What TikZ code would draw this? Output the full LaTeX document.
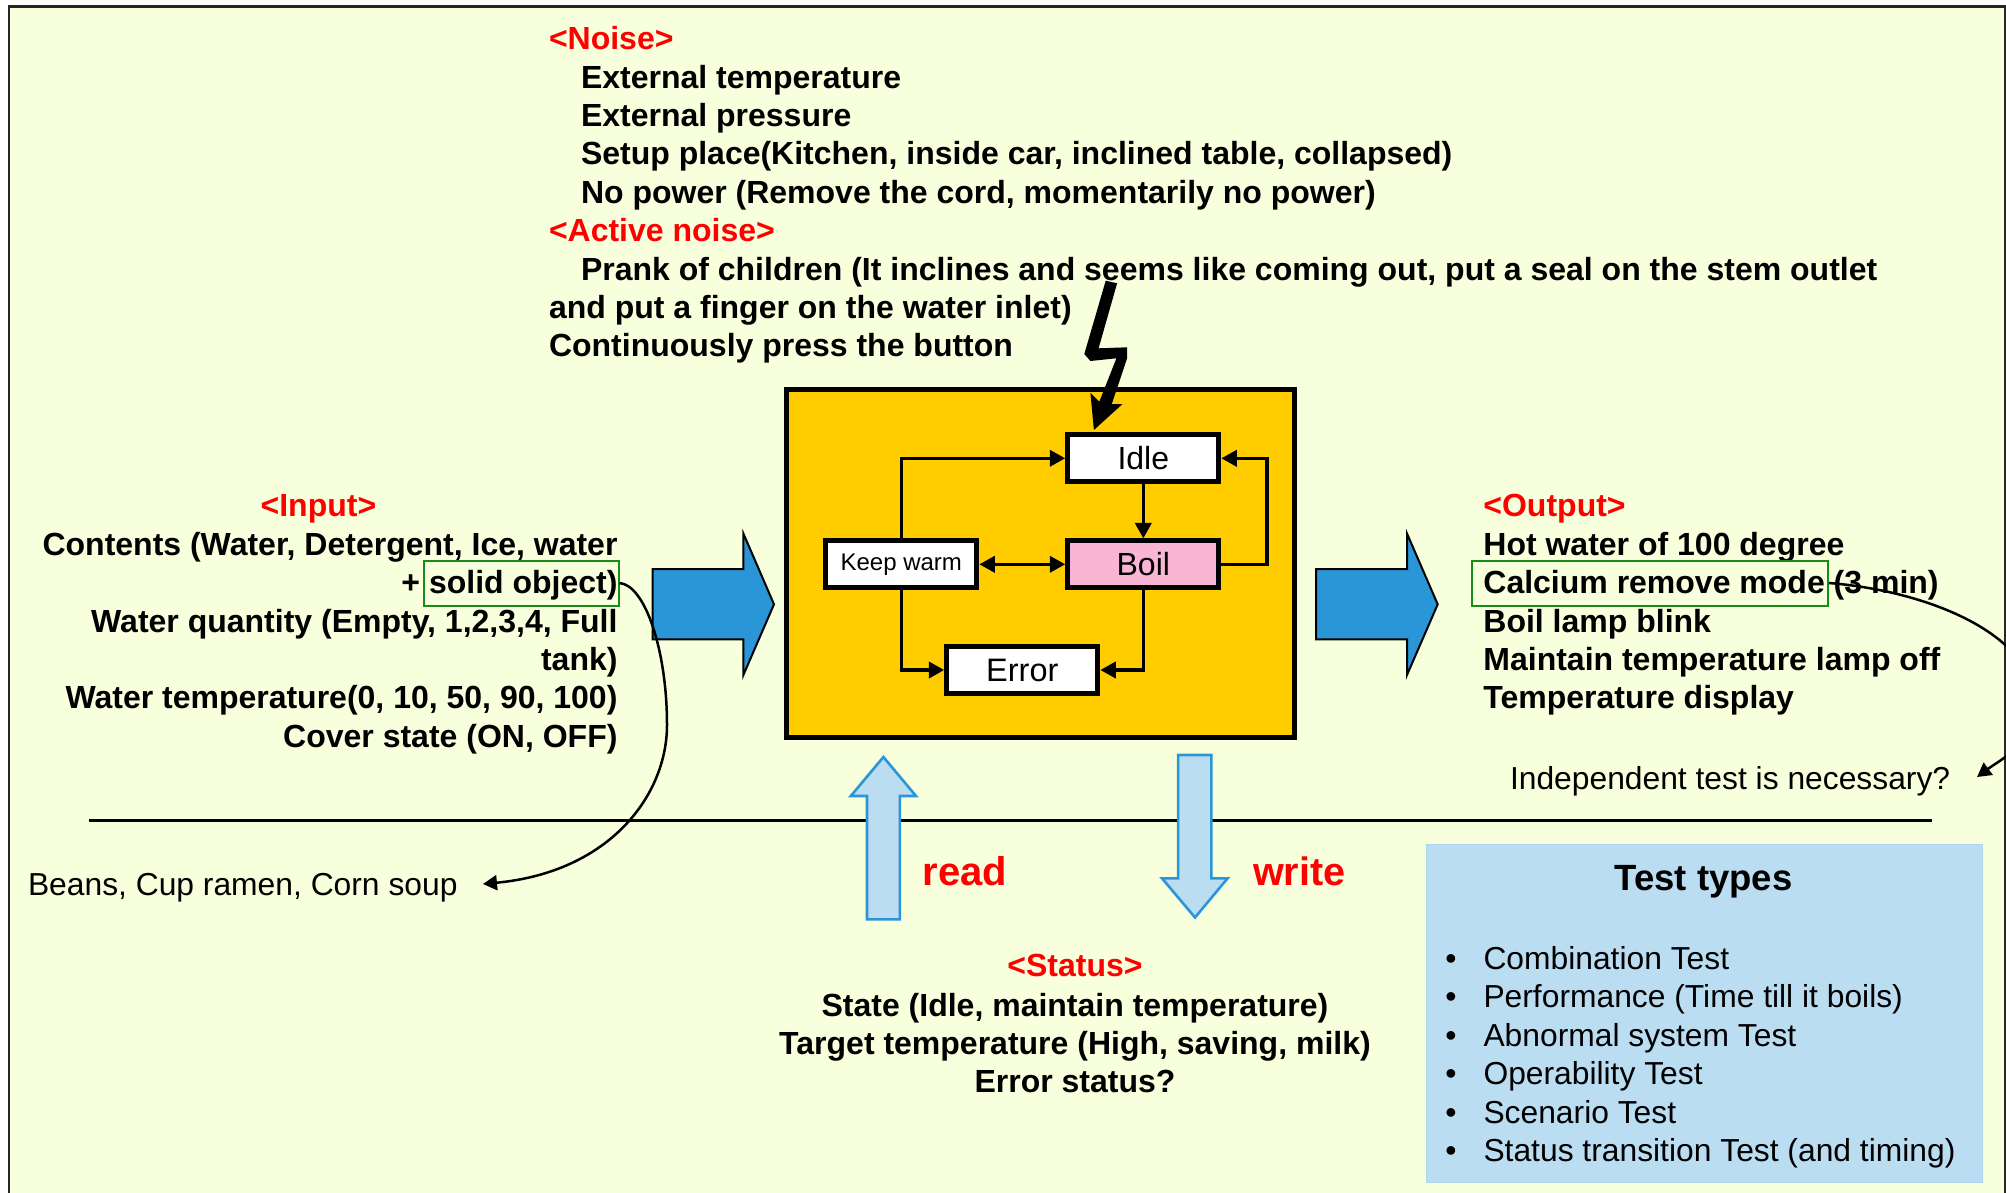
\documentclass[tikz,border=0pt]{standalone}
\usepackage{fontspec}
\setmainfont{Liberation Sans}
\usetikzlibrary{arrows.meta}
\definecolor{paper}{HTML}{F8FFDC}
\definecolor{gold}{HTML}{FFCC00}
\definecolor{pinkb}{HTML}{F8B6D4}
\definecolor{blued}{HTML}{2A96D8}
\definecolor{bluel}{HTML}{BBDDF2}
\definecolor{greenb}{HTML}{1A8C1A}
\tikzset{
  x=1pt,y=-1pt,
  txt/.style={inner sep=0pt,outer sep=0pt,font=\fontsize{32pt}{38.4pt}\selectfont,anchor=base west},
  btxt/.style={txt,font=\fontsize{32pt}{38.4pt}\selectfont\bfseries},
  rtxt/.style={btxt,text=red},
  rbtxt/.style={btxt,anchor=base east},
  statebox/.style={draw=black,line width=5pt,fill=white,minimum width=151pt,minimum height=46.7pt,inner sep=0pt,font=\fontsize{32pt}{36pt}\selectfont},
  greenbox/.style={draw=greenb,line width=2pt,inner sep=0pt},
  conn/.style={line width=3.6pt,-{Triangle[length=15.5pt,width=16pt]}},
  biconn/.style={line width=3.6pt,{Triangle[length=15.5pt,width=16pt]}-{Triangle[length=15.5pt,width=16pt]}},
  thin curve/.style={line width=2.5pt,-{Triangle[length=14pt,width=15pt]}},
  bigarrow/.style={fill=blued,draw=black,line width=2pt,line join=miter},
  flowarrow/.style={fill=bluel,draw=blued,line width=2.6pt,line join=miter},
}
\begin{document}
\begin{tikzpicture}
\useasboundingbox (0,0) rectangle (2006,1192);
\begin{scope}
\clip (0,0) rectangle (2006,1192);
\fill[white] (0,0) rectangle (2006,1192);
\draw[fill=paper,draw=black!85,line width=2.6pt] (9,6.5) rectangle (2005,1210);

% separator
\draw[line width=2.6pt] (89.3,820.7) -- (1932,820.7);

% Noise
\node[rtxt] (noise) at (549,49.3) {<Noise>};
\node[btxt] (n1) at (581,88) {External temperature};
\node[btxt] (n2) at (581,126.3) {External pressure};
\node[btxt] (n3) at (581,164.7) {Setup place(Kitchen, inside car, inclined table, collapsed)};
\node[btxt] (n4) at (581,203) {No power (Remove the cord, momentarily no power)};
\node[rtxt] (active) at (549,241.4) {<Active noise>};
\node[btxt] (a1) at (581,280.2) {Prank of children (It inclines and seems like coming out, put a seal on the stem outlet};
\node[btxt] (a2) at (549,318.4) {and put a finger on the water inlet)};
\node[btxt] (a3) at (549,356.6) {Continuously press the button};

% Input
\node[rtxt,anchor=base] (input) at (318.4,516) {<Input>};
\node[rbtxt] (i1) at (617.5,555.3) {Contents (Water, Detergent, Ice, water};
\node[rbtxt] (i2) at (617.5,593.6) {+ solid object)};
\node[rbtxt] (i3) at (617.5,632) {Water quantity (Empty, 1,2,3,4, Full};
\node[rbtxt] (i4) at (617.5,670.3) {tank)};
\node[rbtxt] (i5) at (617.5,708.6) {Water temperature(0, 10, 50, 90, 100)};
\node[rbtxt] (i6) at (617.5,747) {Cover state (ON, OFF)};
\node[greenbox,minimum width=195pt,minimum height=45pt] (solid) at (521,583) {};

% Output
\node[rtxt] (output) at (1483.4,516) {<Output>};
\node[btxt] (o1) at (1483.4,555.3) {Hot water of 100 degree};
\node[btxt] (o2) at (1483.4,593.6) {Calcium remove mode (3 min)};
\node[btxt] (o3) at (1483.4,632) {Boil lamp blink};
\node[btxt] (o4) at (1483.4,670.3) {Maintain temperature lamp off};
\node[btxt] (o5) at (1483.4,708.6) {Temperature display};
\node[greenbox,minimum width=356pt,minimum height=45pt] (calc) at (1649.8,583) {};

% notes
\node[txt,font=\fontsize{31.8pt}{38pt}\selectfont] (beans) at (28,895) {Beans, Cup ramen, Corn soup};
\node[txt,font=\fontsize{31.8pt}{38pt}\selectfont] (indep) at (1510,789) {Independent test is necessary?};

% block arrows
\draw[bigarrow] (652.6,569) -- (743.4,569) -- (743.4,533.5) -- (774,604.3) -- (743.4,675) -- (743.4,639.3) -- (652.6,639.3) -- cycle;
\draw[bigarrow] (1316.2,569) -- (1407,569) -- (1407,533.5) -- (1437.7,604.3) -- (1407,675) -- (1407,639.3) -- (1316.2,639.3) -- cycle;

% curved notes
\coordinate (solidtip) at (483,884);
\coordinate (indeptip) at (1977,777);
\draw[line width=2.5pt] (solid.east) .. controls (645,585) and (667,650) .. (667,725);
\draw[thin curve] (667,725) .. controls (667,795) and (610,872) .. (solidtip);
\draw[line width=2.5pt] (calc.east) .. controls (1920,590) and (2030,630) .. (2035,700);
\draw[thin curve] (2035,700) .. controls (2040,740) and (2000,760) .. (indeptip);

% state box
\draw[fill=gold,draw=black,line width=5pt] (786.5,389.8) rectangle (1294.5,737.5);
\node[statebox] (idle) at (1143.3,458.3) {Idle};
\node[statebox,fill=pinkb] (boil) at (1143.3,564.3) {Boil};
\node[statebox,font=\fontsize{24pt}{28pt}\selectfont] (keep) at (901.3,564.3) {\raisebox{-1pt}{Keep warm}};
\node[statebox,font=\fontsize{32.5pt}{36pt}\selectfont] (error) at (1022.3,670) {\raisebox{-1pt}{Error}};
\coordinate (rightbend) at (1267,564.3);
\draw[conn] (keep.north) |- (idle.west);
\draw[conn] (idle.south) -- (boil.north);
\draw[biconn] (keep.east) -- (boil.west);
\draw[conn,line join=miter] (boil.east) -- (rightbend) |- (idle.east);
\draw[conn] (keep.south) |- (error.west);
\draw[conn] (boil.south) |- (error.east);

% lightning
\fill[black] (1105.7,280.7) -- (1117.1,283.3) -- (1098.6,348.3) -- (1127.1,347.3) -- (1127.1,358.3) -- (1111.8,404) -- (1122.5,404) -- (1093.9,430) -- (1090.4,392.7) -- (1099.3,401.7) -- (1116.4,358.3) -- (1090.4,361) -- (1084.3,354) -- cycle;

% read / write
\draw[flowarrow] (883.4,757) -- (916,796) -- (899.9,796) -- (899.9,919.3) -- (867,919.3) -- (867,796) -- (850.8,796) -- cycle;
\draw[flowarrow] (1178.1,755) -- (1211.4,755) -- (1211.4,878.3) -- (1227.6,878.3) -- (1195,917.5) -- (1162,878.3) -- (1178.1,878.3) -- cycle;
\node[btxt,text=red,font=\fontsize{40pt}{46pt}\selectfont\bfseries] (read) at (922.5,885) {read};
\node[btxt,text=red,font=\fontsize{39.6pt}{46pt}\selectfont\bfseries] (write) at (1253,885) {write};

% status
\node[rtxt,anchor=base] (status) at (1075,976.5) {<Status>};
\node[btxt,anchor=base] (s1) at (1075,1016) {State (Idle, maintain temperature)};
\node[btxt,anchor=base] (s2) at (1075,1054) {Target temperature (High, saving, milk)};
\node[btxt,anchor=base] (s3) at (1075,1092.6) {Error status?};

% test types
\draw[fill=bluel,draw=bluel!90!blued,line width=1.5pt] (1426.3,844.3) rectangle (1982.5,1182.7);
\node[btxt,anchor=base,font=\fontsize{36.5pt}{43pt}\selectfont\bfseries] (tt) at (1703.5,890.5) {Test types};
\node[txt,font=\fontsize{31.8pt}{38pt}\selectfont] (t1) at (1483.5,969.3) {Combination Test};
\node[txt,font=\fontsize{31.8pt}{38pt}\selectfont] (t2) at (1483.5,1007.7) {Performance (Time till it boils)};
\node[txt,font=\fontsize{31.8pt}{38pt}\selectfont] (t3) at (1483.5,1046) {Abnormal system Test};
\node[txt,font=\fontsize{31.8pt}{38pt}\selectfont] (t4) at (1483.5,1084.5) {Operability Test};
\node[txt,font=\fontsize{31.8pt}{38pt}\selectfont] (t5) at (1483.5,1123) {Scenario Test};
\node[txt,font=\fontsize{31.8pt}{38pt}\selectfont] (t6) at (1483.5,1161.3) {Status transition Test (and timing)};
\node[txt,anchor=base] (b1) at (1451,969.3) {\textbullet};
\node[txt,anchor=base] (b2) at (1451,1007.7) {\textbullet};
\node[txt,anchor=base] (b3) at (1451,1046) {\textbullet};
\node[txt,anchor=base] (b4) at (1451,1084.5) {\textbullet};
\node[txt,anchor=base] (b5) at (1451,1123) {\textbullet};
\node[txt,anchor=base] (b6) at (1451,1161.3) {\textbullet};
\end{scope}
\end{tikzpicture}
\end{document}
